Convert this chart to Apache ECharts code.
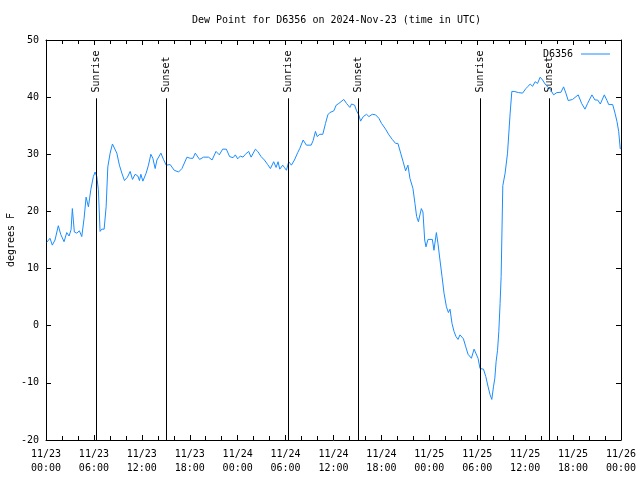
<!DOCTYPE html>
<html>
<head>
<meta charset="utf-8">
<script src="https://cdn.jsdelivr.net/npm/echarts@6/dist/echarts.min.js"></script>
<style>html,body{margin:0;padding:0;background:#fff}#c{width:640px;height:480px}</style>
</head>
<body>
<div id="c"></div>
<script>
// hours since 2024-11-23 00:00 UTC
var hours = [0.1,0.29,0.50,0.79,1.13,1.54,1.84,2.26,2.60,2.89,3.14,3.30,3.55,3.85,4.18,4.48,4.77,5.02,5.31,5.61,5.93,6.15,6.36,6.56,6.77,6.99,7.28,7.53,7.74,8.03,8.32,8.53,8.87,9.19,9.50,9.82,10.20,10.54,10.83,11.16,11.50,11.70,11.88,12.13,12.54,12.83,13.13,13.38,13.67,13.89,14.39,14.71,15.05,15.55,16.06,16.60,17.02,17.65,18.06,18.40,18.69,19.23,19.73,20.36,20.79,21.29,21.70,22.12,22.58,22.99,23.42,23.71,24.00,24.34,24.67,24.96,25.38,25.68,26.22,26.51,26.93,27.35,27.76,28.10,28.51,28.81,29.06,29.27,29.64,29.85,30.11,30.39,30.73,31.11,31.52,31.77,32.20,32.61,33.20,33.45,33.74,33.96,34.28,34.66,35.00,35.29,35.54,35.71,36.04,36.34,36.67,36.88,37.29,37.63,38.05,38.26,38.64,38.89,39.17,39.39,39.73,40.14,40.43,40.86,41.27,41.68,42.02,42.52,42.94,43.36,43.78,44.07,44.41,44.72,45.03,45.32,45.57,45.95,46.20,46.41,46.63,47.00,47.20,47.42,47.58,47.83,48.38,48.58,48.88,49.08,49.33,49.59,49.84,50.14,50.39,50.59,50.84,51.09,51.34,51.59,51.84,52.27,52.56,52.85,53.27,53.60,53.85,54.10,54.35,54.78,55.07,55.36,55.61,55.82,56.03,56.20,56.36,56.54,56.70,56.86,56.99,57.20,57.49,57.79,58.12,58.33,58.62,58.83,59.17,59.67,60.09,60.37,60.63,60.93,61.25,61.55,61.88,62.18,62.59,63.13,63.56,63.97,64.48,64.81,65.10,65.39,65.94,66.64,67.07,67.49,67.82,68.36,68.74,69.08,69.41,69.91,70.25,70.46,70.96,71.25,71.50,71.71,71.91];
var dewF = [14.6,14.8,15.3,14.1,15.0,17.5,16.0,14.7,16.3,15.7,16.8,20.5,16.4,16.2,16.6,15.6,18.8,22.5,20.8,23.8,26.1,26.9,26.1,23.8,16.5,16.9,16.9,20.8,27.8,30.2,31.8,31.8,30.2,28.1,26.7,25.4,26.0,27.0,25.6,26.5,26.2,25.4,26.5,25.3,26.7,28.1,30.0,29.3,27.5,29.0,30.2,29.1,28.1,28.2,27.2,26.9,27.5,29.5,29.3,29.3,30.2,29.1,29.5,29.5,29.0,30.5,29.9,30.9,30.9,29.6,29.4,29.9,29.2,29.7,29.5,30.0,30.5,29.5,30.9,30.5,29.6,29.0,28.2,27.5,28.7,27.7,28.7,27.4,28.1,27.7,27.2,28.7,28.1,29.0,30.3,31.0,32.5,31.6,31.6,32.4,34.0,33.1,33.5,33.5,35.4,36.9,37.3,37.0,37.6,38.6,38.9,38.7,39.6,38.9,38.2,38.8,38.6,37.6,36.9,35.8,36.6,37.0,36.6,37.0,36.9,36.3,35.4,34.4,33.4,32.6,31.9,31.9,30.2,28.7,27.1,28.1,25.8,24.0,21.4,19.1,18.2,20.5,19.9,15.0,13.8,15.1,15.1,13.2,16.3,14.4,11.5,8.6,5.7,3.3,2.3,2.9,0.4,-1.0,-1.9,-2.4,-1.6,-2.3,-3.7,-5.0,-5.7,-4.1,-4.1,-5.7,-7.5,-7.6,-8.9,-10.7,-12.1,-12.9,-10.7,-9.2,-6.3,-4.3,-1.0,3.9,8.6,24.5,26.7,30.2,37.2,41.0,41.0,41.25,40.8,40.7,41.5,41.9,42.3,41.9,42.7,42.4,43.5,43.0,42.1,41.4,40.4,40.8,40.85,41.8,40.7,39.4,39.6,40.4,38.9,37.9,38.9,40.4,39.5,39.5,38.8,40.4,39.4,38.7,38.7,37.2,35.7,34.0,30.9];
var sunHours = [6.26, 15.03, 30.34, 39.11, 54.38, 63.02];
var sunNames = ['Sunrise','Sunset','Sunrise','Sunset','Sunrise','Sunset'];
var sunLineTop = 39.8, sunLabelBase = 40.8;
var seriesName = 'D6356';
var titleText = 'Dew Point for D6356 on 2024-Nov-23 (time in UTC)';
var yName = 'degrees F';

var FONT = 'DejaVu Sans Mono';
var pts = hours.map(function(h,i){return [h, dewF[i]];});
function pad(n){return (n<10?'0':'')+n;}
function fmtX(v){
  var d = 23 + Math.floor(v/24 + 1e-9), h = Math.round(v - (d-23)*24);
  return '11/' + pad(d) + '\n' + pad(h) + ':00';
}
var chart = echarts.init(document.getElementById('c'), null, {renderer:'canvas'});
var axisCommon = {
  min: 0, max: 72, interval: 6, type: 'value',
  axisLine: {show: true, onZero: false, lineStyle: {color: '#000', width: 1}},
  axisTick: {show: true, inside: true, length: 5, lineStyle: {color: '#000'}},
  minorTick: {show: true, splitNumber: 3, length: 4, lineStyle: {color: '#000'}},
  splitLine: {show: false}
};
chart.setOption({
  animation: false,
  title: {text: titleText, left: 187, top: 10, textStyle: {fontFamily: FONT, fontSize: 10, fontWeight: 'normal', color: '#000'}},
  legend: {data: [{name: seriesName, icon: 'rect'}], right: 25, top: 44, itemWidth: 29, itemHeight: 1, align: 'right', itemGap: 5,
    textStyle: {fontFamily: FONT, fontSize: 10, color: '#000', padding: [0,3,0,0]}},
  grid: {left: 46, right: 19, top: 40, bottom: 40, containLabel: false, outerBoundsMode: 'none'},
  xAxis: [
    Object.assign({}, axisCommon, {position: 'bottom',
      axisLabel: {formatter: fmtX, fontFamily: FONT, fontSize: 10, color: '#000', lineHeight: 14, margin: 7}}),
    Object.assign({}, axisCommon, {position: 'top', axisLabel: {show: false}})
  ],
  yAxis: [
    {type: 'value', min: -20, max: 50, interval: 10, position: 'left',
     name: yName, nameLocation: 'middle', nameGap: 30, nameRotate: 90, nameMoveOverlap: false,
     nameTextStyle: {fontFamily: FONT, fontSize: 10, color: '#000'},
     axisLine: {show: true, onZero: false, lineStyle: {color: '#000'}},
     axisTick: {show: true, inside: true, length: 5, lineStyle: {color: '#000'}},
     axisLabel: {fontFamily: FONT, fontSize: 10, color: '#000', margin: 7},
     splitLine: {show: false}},
    {type: 'value', min: -20, max: 50, interval: 10, position: 'right',
     axisLine: {show: true, onZero: false, lineStyle: {color: '#000'}},
     axisTick: {show: true, inside: true, length: 5, lineStyle: {color: '#000'}},
     axisLabel: {show: false}, splitLine: {show: false}}
  ],
  series: [
    {name: seriesName, type: 'line', data: pts, showSymbol: false, symbol: 'none',
     lineStyle: {color: '#1a8cff', width: 1}, itemStyle: {color: '#1a8cff'}, z: 3,
     markLine: {silent: true, symbol: ['none','none'], label: {show: false},
       lineStyle: {color: '#000', width: 1, type: 'solid'},
       data: sunHours.map(function(h){return [{coord: [h, -20]}, {coord: [h, sunLineTop]}];})}},
    {name: 'sun', type: 'scatter', symbolSize: 0, silent: true,
     data: sunHours.map(function(h,i){return {value: [h, sunLabelBase], name: sunNames[i]};}),
     label: {show: true, formatter: '{b}', position: [0,0], rotate: 90, align: 'left', verticalAlign: 'middle',
       fontFamily: FONT, fontSize: 10, color: '#000', opacity: 1},
     itemStyle: {opacity: 1}}
  ]
});
</script>
</body>
</html>
